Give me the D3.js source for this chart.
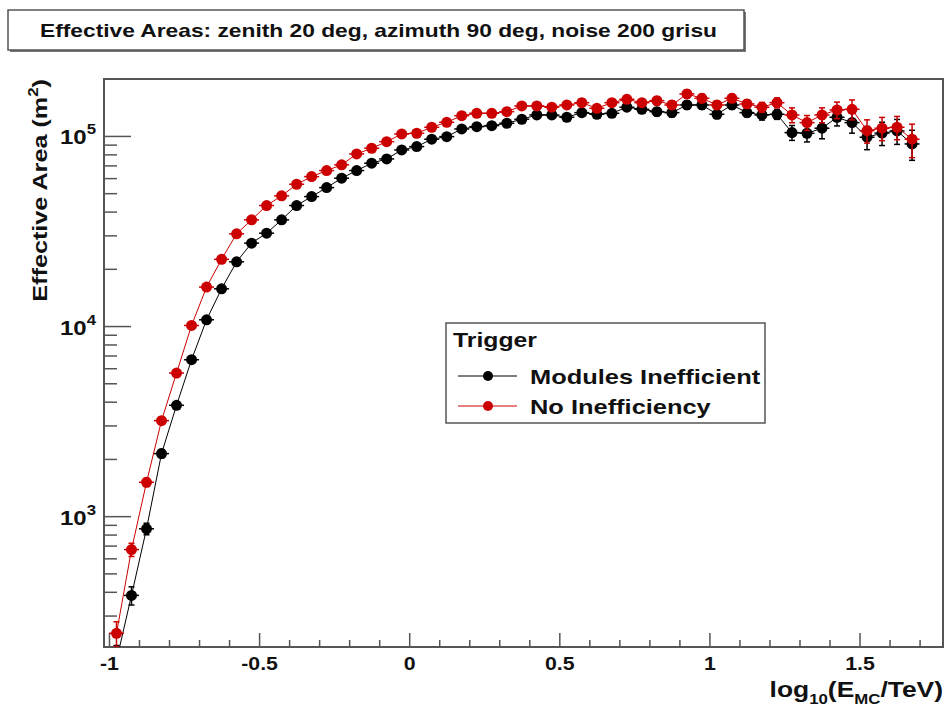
<!DOCTYPE html>
<html>
<head>
<meta charset="utf-8">
<script src="https://cdn.jsdelivr.net/npm/d3@7"></script>
<style>
body { margin: 0; background: #fff; }
svg { display: block; }
text { font-family: "Liberation Sans", Arial, sans-serif; font-weight: bold; fill: #111; }
</style>
</head>
<body>
<div id="chart"></div>
<script>
// bin centres in log10(E/TeV)
const binCenters = [-0.975,-0.925,-0.875,-0.825,-0.775,-0.725,-0.675,-0.625,-0.575,-0.525,
    -0.475,-0.425,-0.375,-0.325,-0.275,-0.225,-0.175,-0.125,-0.075,-0.025,
    0.025,0.075,0.125,0.175,0.225,0.275,0.325,0.375,0.425,0.475,
    0.525,0.575,0.625,0.675,0.725,0.775,0.825,0.875,0.925,0.975,
    1.025,1.075,1.125,1.175,1.225,1.275,1.325,1.375,1.425,1.475,
    1.525,1.575,1.625,1.675];

const modulesInefficient = [174,383,858,2133,3830,6650,10790,15700,21770,27300,
    30800,36200,43050,47970,53480,59960,65750,71870,75700,84400,
    87900,96100,99150,108800,111900,113300,116600,122400,128900,128900,
    125400,132600,130000,131600,141600,138100,134200,132600,145500,145500,
    130000,145500,132600,128900,130000,104100,103300,109800,125400,117500,
    98450,103500,106200,90760];

const noInefficiency = [242,667,1507,3180,5660,10070,16030,22440,30550,36200,
    43050,48400,55700,61100,65750,70450,80400,86150,93300,102400,
    103300,111100,118000,127800,131600,131600,134200,143800,143800,141600,
    145500,149600,139800,149600,155900,149600,153300,145500,166300,157800,
    145500,157800,147300,141600,149600,128900,117500,128900,137000,138100,
    106600,109800,111100,96100];

// relative errors
const errModules = [0.20,0.11,0.07,0.05,0.04,0.03,0.03,0.03,0.03,0.03,
    0.03,0.03,0.03,0.03,0.03,0.03,0.03,0.03,0.03,0.03,
    0.03,0.03,0.03,0.03,0.03,0.03,0.03,0.03,0.04,0.04,
    0.04,0.04,0.04,0.04,0.04,0.04,0.05,0.05,0.05,0.05,
    0.05,0.05,0.05,0.06,0.06,0.09,0.10,0.12,0.10,0.12,
    0.14,0.14,0.15,0.18];

const errNoIneff = [0.15,0.08,0.05,0.04,0.03,0.03,0.03,0.03,0.03,0.03,
    0.03,0.03,0.03,0.03,0.03,0.03,0.03,0.03,0.03,0.03,
    0.03,0.03,0.03,0.03,0.03,0.03,0.03,0.03,0.04,0.04,
    0.04,0.04,0.04,0.04,0.04,0.04,0.05,0.05,0.05,0.05,
    0.05,0.05,0.05,0.06,0.06,0.09,0.09,0.09,0.10,0.12,
    0.14,0.14,0.14,0.20];

const seriesNames = ["Modules Inefficient", "No Inefficiency"];
const seriesColors = ["#000000", "#cc0000"];
const xMajorTicks = [-1, -0.5, 0, 0.5, 1, 1.5];
const yDecades = [1e3, 1e4, 1e5];
const binHalfWidth = 0.025;

const width = 948, height = 714;
const margin = {top: 79, right: 5, bottom: 67, left: 104};
const frameColor = "#555";

// the original font renders wider than Liberation Sans, stretch text horizontally
function widen(sel, k) {
    sel.each(function () {
        const w = this.getComputedTextLength();
        d3.select(this).attr("textLength", w * k).attr("lengthAdjust", "spacingAndGlyphs");
    });
}

const svg = d3.select("#chart").append("svg")
    .attr("width", width)
    .attr("height", height);

// title box
svg.append("rect").attr("x", 10).attr("y", 12).attr("width", 736).attr("height", 40).attr("fill", "#777");
svg.append("rect").attr("x", 8).attr("y", 10).attr("width", 736).attr("height", 40)
    .attr("fill", "#fff").attr("stroke", frameColor).attr("stroke-width", 1.5);
svg.append("text").attr("x", 40).attr("y", 37).attr("font-size", 18.5)
    .text("Effective Areas: zenith 20 deg, azimuth 90 deg, noise 200 grisu")
    .call(widen, 1.23);

const x = d3.scaleLinear()
    .domain([-1.0166, 1.778])
    .range([margin.left, width - margin.right]);

const y = d3.scaleLog()
    .domain([205, 1.993e5])
    .range([height - margin.bottom, margin.top]);

// minor ticks
const xMinor = d3.range(-10, 18).map(d => d / 10).filter(d => !xMajorTicks.some(m => Math.abs(m - d) < 1e-9));
const yMinor = [];
[1e2, 1e3, 1e4, 1e5].forEach(dec => {
    for (let k = 2; k <= 9; k++) {
        const v = k * dec;
        if (v > y.domain()[0] && v < y.domain()[1]) yMinor.push(v);
    }
});

svg.append("g")
    .attr("transform", `translate(0, ${height - margin.bottom})`)
    .call(d3.axisBottom(x).tickValues(xMinor).tickSize(-7).tickFormat(""))
    .call(g => g.select(".domain").remove())
    .call(g => g.selectAll("line").attr("stroke", frameColor).attr("stroke-width", 1.5));

svg.append("g")
    .attr("transform", `translate(0, ${height - margin.bottom})`)
    .call(d3.axisBottom(x).tickValues(xMajorTicks).tickSize(-14).tickPadding(10).tickFormat(d => String(d)))
    .call(g => g.select(".domain").remove())
    .call(g => g.selectAll("line").attr("stroke", frameColor).attr("stroke-width", 1.5))
    .call(g => g.selectAll("text").attr("font-size", 19).attr("font-family", null).attr("fill", "#111").call(widen, 1.12));

svg.append("g")
    .attr("transform", `translate(${margin.left}, 0)`)
    .call(d3.axisLeft(y).tickValues(yMinor).tickSize(-13).tickFormat(""))
    .call(g => g.select(".domain").remove())
    .call(g => g.selectAll("line").attr("stroke", frameColor).attr("stroke-width", 1.5));

const yAxisMajor = svg.append("g")
    .attr("transform", `translate(${margin.left}, 0)`)
    .call(d3.axisLeft(y).tickValues(yDecades).tickSize(-27).tickFormat(""))
    .call(g => g.select(".domain").remove())
    .call(g => g.selectAll("line").attr("stroke", frameColor).attr("stroke-width", 1.5));

yAxisMajor.selectAll(".tick").append("text")
    .attr("x", -8).attr("y", 8).attr("text-anchor", "end")
    .attr("font-size", 20).attr("font-family", null).attr("fill", "#111")
    .each(function (d) {
        const t = d3.select(this);
        t.append("tspan").text("10");
        t.append("tspan").attr("font-size", 14).attr("dy", -10).text(Math.round(Math.log10(d)));
    })
    .call(widen, 1.2);

// frame
svg.append("rect")
    .attr("x", margin.left).attr("y", margin.top)
    .attr("width", width - margin.left - margin.right)
    .attr("height", height - margin.top - margin.bottom)
    .attr("fill", "none").attr("stroke", frameColor).attr("stroke-width", 2);

// axis titles
const xTitle = svg.append("text").attr("x", 943).attr("y", 697)
    .attr("text-anchor", "end").attr("font-size", 22);
xTitle.append("tspan").text("log");
xTitle.append("tspan").attr("font-size", 14).attr("dy", 7).text("10");
xTitle.append("tspan").attr("dy", -7).text("(E");
xTitle.append("tspan").attr("font-size", 14).attr("dy", 7).text("MC");
xTitle.append("tspan").attr("dy", -7).text("/TeV)");
xTitle.call(widen, 1.2);

const yTitle = svg.append("text")
    .attr("transform", "translate(47, 79) rotate(-90)")
    .attr("text-anchor", "end").attr("font-size", 21);
yTitle.append("tspan").text("Effective Area (m");
yTitle.append("tspan").attr("font-size", 14).attr("dy", -9).text("2");
yTitle.append("tspan").attr("dy", 9).text(")");
yTitle.call(widen, 1.2);

// data
svg.append("clipPath").attr("id", "frame-clip").append("rect")
    .attr("x", margin.left).attr("y", margin.top)
    .attr("width", width - margin.left - margin.right)
    .attr("height", height - margin.top - margin.bottom);

const series = [
    {name: seriesNames[0], color: seriesColors[0], values: modulesInefficient, errs: errModules},
    {name: seriesNames[1], color: seriesColors[1], values: noInefficiency, errs: errNoIneff}
];

const plot = svg.append("g").attr("clip-path", "url(#frame-clip)");
const line = d3.line().x(d => x(d.c)).y(d => y(d.v));

series.forEach(s => {
    const pts = binCenters.map((c, i) => ({c: c, v: s.values[i], e: s.errs[i]}));
    const g = plot.append("g");

    g.append("path").datum(pts)
        .attr("d", line)
        .attr("fill", "none")
        .attr("stroke", s.color)
        .attr("stroke-width", 1);

    const eb = g.selectAll(".err").data(pts).join("g").attr("stroke", s.color).attr("stroke-width", 1.5);
    eb.append("line")
        .attr("x1", d => x(d.c - binHalfWidth)).attr("x2", d => x(d.c + binHalfWidth))
        .attr("y1", d => y(d.v)).attr("y2", d => y(d.v));
    eb.append("line")
        .attr("x1", d => x(d.c)).attr("x2", d => x(d.c))
        .attr("y1", d => y(d.v * (1 + d.e))).attr("y2", d => y(d.v * (1 - d.e)));
    eb.append("line")
        .attr("x1", d => x(d.c) - 3).attr("x2", d => x(d.c) + 3)
        .attr("y1", d => y(d.v * (1 + d.e))).attr("y2", d => y(d.v * (1 + d.e)));
    eb.append("line")
        .attr("x1", d => x(d.c) - 3).attr("x2", d => x(d.c) + 3)
        .attr("y1", d => y(d.v * (1 - d.e))).attr("y2", d => y(d.v * (1 - d.e)));

    g.selectAll("circle").data(pts).join("circle")
        .attr("cx", d => x(d.c)).attr("cy", d => y(d.v))
        .attr("r", 5.5).attr("fill", s.color);
});

// legend
const legend = svg.append("g");
legend.append("rect").attr("x", 446).attr("y", 323).attr("width", 319).attr("height", 100)
    .attr("fill", "#fff").attr("stroke", frameColor).attr("stroke-width", 1.5);
legend.append("text").attr("x", 453).attr("y", 347).attr("font-size", 21).text("Trigger").call(widen, 1.18);
series.forEach((s, i) => {
    const ly = 376 + i * 30;
    legend.append("line").attr("x1", 458).attr("x2", 517).attr("y1", ly).attr("y2", ly)
        .attr("stroke", s.color).attr("stroke-width", 1);
    legend.append("circle").attr("cx", 488).attr("cy", ly).attr("r", 5).attr("fill", s.color);
    legend.append("text").attr("x", 530).attr("y", ly + 8).attr("font-size", 21).text(s.name).call(widen, 1.21);
});
</script>
</body>
</html>
